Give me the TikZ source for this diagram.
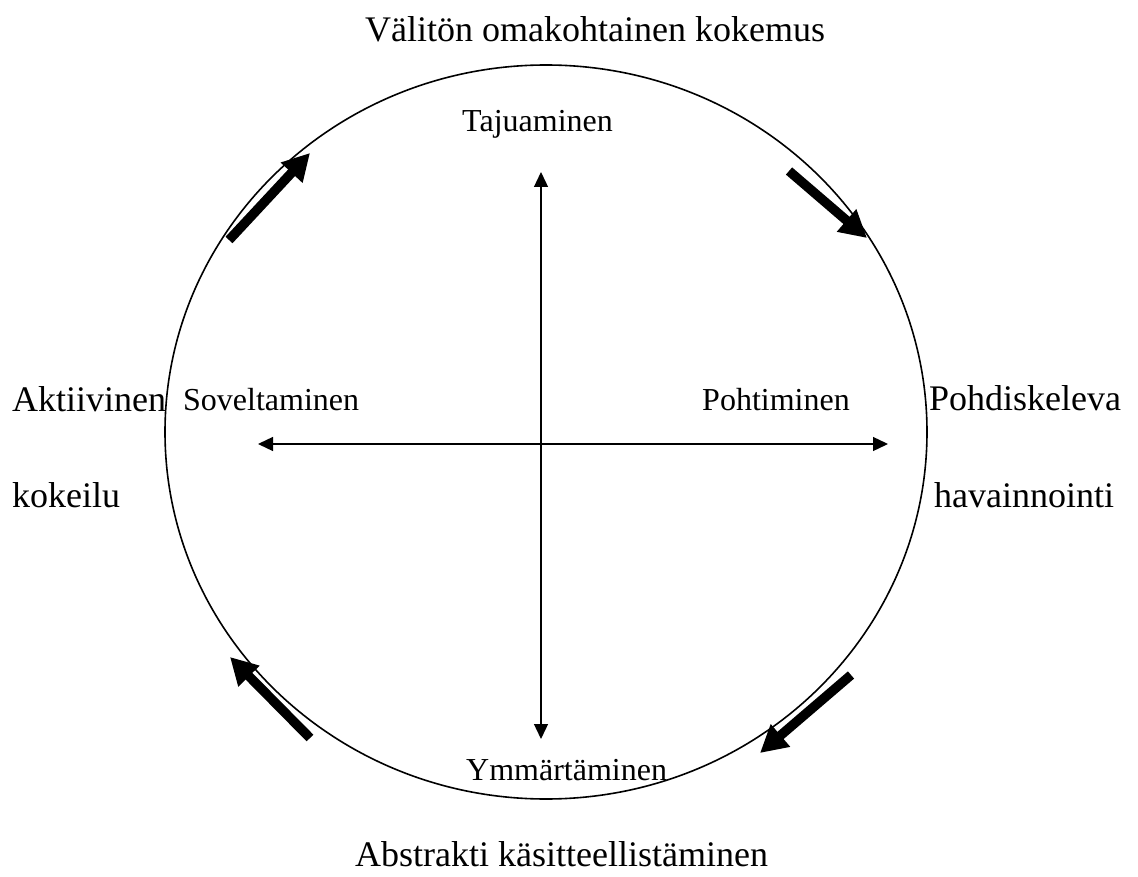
\documentclass[tikz,border=0pt]{standalone}
\usepackage{fontspec}
\setmainfont{Liberation Serif}
\usetikzlibrary{arrows.meta}
\begin{document}
\begin{tikzpicture}[x=1pt,y=-1pt,
  big/.style={inner sep=0pt,font=\fontsize{36}{43}\selectfont},
  small/.style={inner sep=0pt,font=\fontsize{32}{38}\selectfont},
  axis/.style={line width=1.3pt,{Triangle[length=15pt,width=14pt]}-{Triangle[length=15pt,width=14pt]}},
  blockarrow/.style={line width=9.5pt,-{Triangle[length=27pt,width=28pt]}}]
\useasboundingbox (0,0) rectangle (1138,877);
\draw[line width=1.6pt] (546,432) ellipse [x radius=381, y radius=367];
% axes
\coordinate (vt) at (541,172);
\coordinate (vb) at (541,739);
\coordinate (hl) at (258,444);
\coordinate (hr) at (888,444);
\draw[axis] (vt) -- (vb);
\draw[axis] (hl) -- (hr);
% block arrows
\coordinate (a1s) at (229,240); \coordinate (a1e) at (310,153);
\coordinate (a2s) at (789,171); \coordinate (a2e) at (867,238);
\coordinate (a3s) at (851,675); \coordinate (a3e) at (760,753);
\coordinate (a4s) at (310,738); \coordinate (a4e) at (230,657);
\draw[blockarrow] (a1s) -- (a1e);
\draw[blockarrow] (a2s) -- (a2e);
\draw[blockarrow] (a3s) -- (a3e);
\draw[blockarrow] (a4s) -- (a4e);
% labels
\node[big,anchor=base west] (top) at (365,42) {Välitön omakohtainen kokemus};
\node[big,anchor=base west] (bottom) at (355,866) {Abstrakti käsitteellistäminen};
\node[big,anchor=base west] (l1) at (12,411) {Aktiivinen};
\node[big,anchor=base west] (l2) at (12,507) {kokeilu};
\node[big,anchor=base west] (r1) at (929,410) {Pohdiskeleva};
\node[big,anchor=base west] (r2) at (934,507) {havainnointi};
\node[small,anchor=base west] (taj) at (462,132) {Tajuaminen};
\node[small,anchor=base west] (ymm) at (466,780) {Ymmärtäminen};
\node[small,anchor=base west] (sov) at (183,410) {Soveltaminen};
\node[small,anchor=base east] (poh) at (850,410) {Pohtiminen};
\end{tikzpicture}
\end{document}
